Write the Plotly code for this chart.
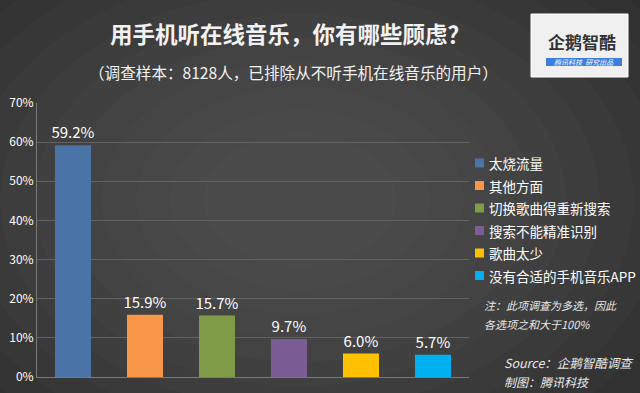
import plotly.graph_objects as go

categories = ["太烧流量", "其他方面", "切换歌曲得重新搜索", "搜索不能精准识别", "歌曲太少", "没有合适的手机音乐APP"]
values = [0.592, 0.159, 0.157, 0.097, 0.060, 0.057]
colors = ["#4a73a8", "#f79646", "#7f9b48", "#7b5d96", "#ffc000", "#00b0f0"]
tick_vals = [0, 0.1, 0.2, 0.3, 0.4, 0.5, 0.6, 0.7]
tick_text = ["0%", "10%", "20%", "30%", "40%", "50%", "60%", "70%"]

FONT = "Noto Sans CJK SC, Microsoft YaHei, sans-serif"
L, R, T, B = 37, 469, 103, 377

def px2paper(px, py):
    return (px - L) / (R - L), 1 + (T - py) / (B - T)

fig = go.Figure()
for i, (c, v, col) in enumerate(zip(categories, values, colors)):
    fig.add_trace(go.Bar(
        x=[i], y=[v], name=c, showlegend=False, marker=dict(color=col, line=dict(width=0)),
        width=0.5, text=[f"{v*100:.1f}%"], textposition="outside", constraintext="none",
        textfont=dict(color="white", size=15, family=FONT), cliponaxis=False,
    ))

fig.update_layout(
    width=640, height=393,
    paper_bgcolor="#2b2b2b", plot_bgcolor="rgba(0,0,0,0)",
    margin=dict(l=L, r=640 - R, t=T, b=393 - B, autoexpand=False),
    barmode="overlay",
    showlegend=False,
    font=dict(family=FONT, color="white"),
    xaxis=dict(range=[-0.5, 5.5], showticklabels=False, showgrid=False, zeroline=False,
               showline=True, linecolor="#7a7a7a", linewidth=1, ticks="", automargin=False),
    yaxis=dict(range=[0, 0.7], tickvals=tick_vals, ticktext=tick_text,
               tickfont=dict(color="white", size=12, family=FONT),
               showgrid=True, gridcolor="#626262", gridwidth=1, zeroline=False,
               showline=True, linecolor="#7a7a7a", linewidth=1, ticks="", ticklen=0,
               automargin=False),
)

# radial-ish background glow
cx, cy = 300, 200
for k in range(12):
    rx = 470 - k * 34
    ry = 330 - k * 24
    ax0, ay0 = px2paper(cx - rx, cy - ry)
    ax1, ay1 = px2paper(cx + rx, cy + ry)
    fig.add_shape(type="circle", xref="paper", yref="paper", x0=ax0, y0=ay0, x1=ax1, y1=ay1,
                  fillcolor="rgba(255,255,255,0.014)", line=dict(width=0), layer="below")

# custom legend
for i, (c, col) in enumerate(zip(categories, colors)):
    yy = 163 + i * 22.5
    sx0, sy0 = px2paper(475, yy - 4.5)
    sx1, sy1 = px2paper(484, yy + 4.5)
    fig.add_shape(type="rect", xref="paper", yref="paper", x0=sx0, y0=sy0, x1=sx1, y1=sy1,
                  fillcolor=col, line=dict(width=0))
    tx, ty = px2paper(487, yy)
    fig.add_annotation(text=c, xref="paper", yref="paper", x=tx, y=ty, showarrow=False,
                       xanchor="left", yanchor="middle",
                       font=dict(color="white", size=13.5, family=FONT))

heads = [
    ("<b>用手机听在线音乐，你有哪些顾虑？</b>", 290, 33, 22.5),
    ("（调查样本：8128人，已排除从不听手机在线音乐的用户）", 293, 72, 15.6),
]
for t, px, py, s in heads:
    x, y = px2paper(px, py)
    fig.add_annotation(text=t, xref="paper", yref="paper", x=x, y=y,
                       showarrow=False, font=dict(color="#f2f2f2", size=s, family=FONT),
                       xanchor="center", yanchor="middle")

notes = [
    ("<i>注：此项调查为多选，因此</i>", 482, 305, 11),
    ("<i>各选项之和大于100%</i>", 482, 324, 11),
    ("<i>Source：企鹅智酷调查</i>", 502, 362, 12.5),
    ("<i>制图：腾讯科技</i>", 502, 381, 12),
]
for t, px, py, s in notes:
    x, y = px2paper(px, py)
    fig.add_annotation(text=t, xref="paper", yref="paper", x=x, y=y,
                       showarrow=False, xanchor="left", yanchor="middle",
                       font=dict(color="#e8e8e8", size=s, family=FONT))

# logo box
x0, y0 = px2paper(531, 14)
x1, y1 = px2paper(628, 77)
fig.add_shape(type="rect", xref="paper", yref="paper", x0=x0, y0=y0, x1=x1, y1=y1,
              fillcolor="#f0f0f0", line=dict(color="#ffffff", width=1), layer="above")
bx0, by0 = px2paper(546, 58)
bx1, by1 = px2paper(622, 66)
fig.add_shape(type="rect", xref="paper", yref="paper", x0=bx0, y0=by0, x1=bx1, y1=by1,
              fillcolor="#3c7fe0", line=dict(width=0), layer="above")
lx, ly = px2paper(582, 42)
fig.add_annotation(text="<b>企鹅智酷</b>", xref="paper", yref="paper", x=lx, y=ly,
                   showarrow=False, font=dict(color="#333333", size=17, family=FONT),
                   xanchor="center", yanchor="middle")
lx, ly = px2paper(584, 62)
fig.add_annotation(text="<i>腾讯科技  研究出品</i>", xref="paper", yref="paper", x=lx, y=ly,
                   showarrow=False, font=dict(color="white", size=7, family=FONT),
                   xanchor="center", yanchor="middle")

fig.write_html("out.html", config={"displayModeBar": False},
               post_script="document.body.style.margin='0';document.body.style.background='#2b2b2b';")
